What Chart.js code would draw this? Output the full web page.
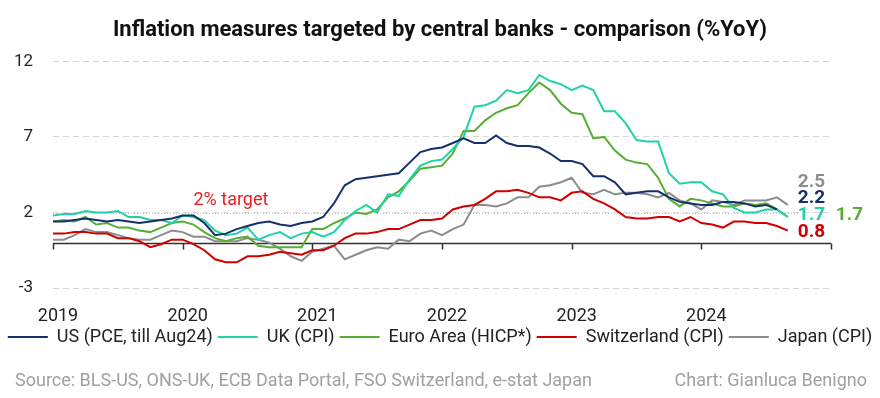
<!DOCTYPE html>
<html>
<head>
<meta charset="utf-8">
<script src="https://cdn.jsdelivr.net/npm/chart.js@4.4.1/dist/chart.umd.min.js"></script>
<style>
  body { margin: 0; background: #fff; }
  #mycanvas { display: block; }
</style>
</head>
<body>
<canvas id="mycanvas" width="880" height="398"></canvas>
<script>
// months Jan 2019 .. Jan 2025 (axis runs to Jan 2025)
var months = [];
for (var yr = 2019; yr <= 2024; yr++) {
	for (var m = 1; m <= 12; m++) months.push(yr + '-' + m);
}
months.push('2025-1');

var yTicks = [-3, 2, 7, 12];

// %YoY, Jan 2019 onwards
var us = [1.4, 1.4, 1.5, 1.6, 1.5, 1.4, 1.5, 1.4, 1.3, 1.4, 1.5, 1.6,
	1.8, 1.8, 1.3, 0.5, 0.6, 0.9, 1.1, 1.3, 1.4, 1.2, 1.1, 1.3,
	1.4, 1.7, 2.6, 3.8, 4.2, 4.3, 4.4, 4.5, 4.6, 5.3, 6.0, 6.2,
	6.3, 6.6, 6.9, 6.6, 6.6, 7.1, 6.6, 6.4, 6.4, 6.3, 5.9, 5.4,
	5.4, 5.2, 4.4, 4.4, 4.0, 3.2, 3.3, 3.4, 3.4, 3.0, 2.7, 2.6,
	2.5, 2.5, 2.7, 2.7, 2.6, 2.4, 2.5, 2.2];
var uk = [1.8, 1.9, 1.9, 2.1, 2.0, 2.0, 2.1, 1.7, 1.7, 1.5, 1.5, 1.3,
	1.8, 1.7, 1.5, 0.8, 0.5, 0.6, 1.0, 0.2, 0.5, 0.7, 0.3, 0.6,
	0.7, 0.4, 0.7, 1.5, 2.1, 2.5, 2.0, 3.2, 3.1, 4.2, 5.1, 5.4,
	5.5, 6.2, 7.0, 9.0, 9.1, 9.4, 10.1, 9.9, 10.1, 11.1, 10.7, 10.5,
	10.1, 10.4, 10.1, 8.7, 8.7, 7.9, 6.8, 6.7, 6.7, 4.6, 3.9, 4.0,
	4.0, 3.4, 3.2, 2.3, 2.0, 2.0, 2.2, 2.2, 1.7];
var euro = [1.4, 1.5, 1.4, 1.7, 1.2, 1.3, 1.0, 1.0, 0.8, 0.7, 1.0, 1.3,
	1.4, 1.2, 0.7, 0.3, 0.1, 0.3, 0.4, -0.2, -0.3, -0.3, -0.3, -0.3,
	0.9, 0.9, 1.3, 1.6, 2.0, 1.9, 2.2, 3.0, 3.4, 4.1, 4.9, 5.0,
	5.1, 5.9, 7.4, 7.4, 8.1, 8.6, 8.9, 9.1, 9.9, 10.6, 10.1, 9.2,
	8.6, 8.5, 6.9, 7.0, 6.1, 5.5, 5.3, 5.2, 4.3, 2.9, 2.4, 2.9,
	2.8, 2.6, 2.4, 2.4, 2.6, 2.5, 2.6, 2.2, 1.7];
var swiss = [0.6, 0.6, 0.7, 0.7, 0.6, 0.6, 0.3, 0.3, 0.1, -0.3, -0.1, 0.2,
	0.2, -0.1, -0.5, -1.1, -1.3, -1.3, -0.9, -0.9, -0.8, -0.6, -0.7, -0.8,
	-0.5, -0.5, -0.2, 0.3, 0.6, 0.6, 0.7, 0.9, 0.9, 1.2, 1.5, 1.5,
	1.6, 2.2, 2.4, 2.5, 2.9, 3.4, 3.4, 3.5, 3.3, 3.0, 3.0, 2.8,
	3.3, 3.4, 2.9, 2.6, 2.2, 1.7, 1.6, 1.6, 1.7, 1.7, 1.4, 1.7,
	1.3, 1.2, 1.0, 1.4, 1.4, 1.3, 1.3, 1.1, 0.8];
var japan = [0.2, 0.2, 0.5, 0.9, 0.7, 0.7, 0.5, 0.3, 0.2, 0.2, 0.5, 0.8,
	0.7, 0.4, 0.4, 0.1, 0.1, 0.1, 0.3, 0.2, 0.0, -0.4, -0.9, -1.2,
	-0.6, -0.4, -0.2, -1.1, -0.8, -0.5, -0.3, -0.4, 0.2, 0.1, 0.6, 0.8,
	0.5, 0.9, 1.2, 2.5, 2.5, 2.4, 2.6, 3.0, 3.0, 3.7, 3.8, 4.0,
	4.3, 3.3, 3.2, 3.5, 3.2, 3.3, 3.3, 3.2, 3.0, 3.3, 2.8, 2.6,
	2.2, 2.8, 2.7, 2.5, 2.8, 2.8, 2.8, 3.0, 2.5];

var seriesNames = ['US (PCE, till Aug24)', 'UK (CPI)', 'Euro Area (HICP*)', 'Switzerland (CPI)', 'Japan (CPI)'];
var seriesData = [us, uk, euro, swiss, japan];
var colors = ['#16306c', '#1fd3a6', '#58ad33', '#d00000', '#8c8c8c'];

var target = 2;
// where the end-of-line value labels sit (value units) and extra x shift
var endLabelY = [2.93, 1.8, 1.8, 0.67, 4.0];
var endLabelDx = [10, 10, 48, 10, 10];

var FONT = 'Roboto';

var datasets = [];
for (var i = 0; i < seriesData.length; i++) {
	datasets.push({
		label: seriesNames[i],
		data: seriesData[i],
		borderColor: colors[i],
		backgroundColor: colors[i],
		borderWidth: 2,
		pointRadius: 0,
		tension: 0
	});
}

// zero axis with year ticks, target line and text
var axisPlugin = {
	id: 'axisPlugin',
	beforeDatasetsDraw: function(chart) {
		var ctx = chart.ctx, x = chart.scales.x, y = chart.scales.y;
		var area = chart.chartArea;
		ctx.save();
		// 2% target
		var ty = Math.round(y.getPixelForValue(target)) + 1.5;
		ctx.strokeStyle = '#f3a3a3';
		ctx.lineWidth = 1;
		ctx.setLineDash([1, 2]);
		ctx.beginPath();
		ctx.moveTo(area.left, ty);
		ctx.lineTo(x.getPixelForValue(69), ty);
		ctx.stroke();
		ctx.setLineDash([]);
		ctx.fillStyle = '#ee1c1c';
		ctx.font = '18px ' + FONT;
		ctx.textBaseline = 'middle';
		ctx.textAlign = 'left';
		ctx.fillText('2% target', x.getPixelForValue(13), y.getPixelForValue(2.8));
		// zero line
		var zy = Math.round(y.getPixelForValue(0)) + 0.5;
		ctx.strokeStyle = '#333';
		ctx.lineWidth = 1.5;
		ctx.beginPath();
		ctx.moveTo(area.left, zy);
		ctx.lineTo(area.right, zy);
		for (var k = 0; k < months.length; k += 12) {
			var px = Math.round(x.getPixelForValue(k)) + 0.5;
			ctx.moveTo(px, zy);
			ctx.lineTo(px, zy + 6);
		}
		ctx.stroke();
		ctx.restore();
	},
	afterDraw: function(chart) {
		var ctx = chart.ctx, x = chart.scales.x, y = chart.scales.y;
		ctx.save();
		ctx.textBaseline = 'middle';
		ctx.textAlign = 'left';
		ctx.font = 'bold 19px ' + FONT;
		var lx = x.getPixelForValue(68);
		for (var i = 0; i < seriesData.length; i++) {
			var d = seriesData[i];
			var last = d[d.length - 1];
			ctx.fillStyle = colors[i];
			ctx.fillText(last.toFixed(1), lx + endLabelDx[i], y.getPixelForValue(endLabelY[i]));
		}
		// footer
		ctx.font = '18px ' + FONT;
		ctx.fillStyle = '#a0a0a0';
		ctx.fillText('Source: BLS-US, ONS-UK, ECB Data Portal, FSO Switzerland, e-stat Japan', 15, 381);
		ctx.textAlign = 'right';
		ctx.fillText('Chart: Gianluca Benigno', 867, 381);
		ctx.restore();
	}
};

var ctx = document.getElementById('mycanvas');
var chart = new Chart(ctx, {
	type: 'line',
	data: { labels: months, datasets: datasets },
	plugins: [axisPlugin],
	options: {
		responsive: false,
		animation: false,
		layout: { padding: { left: 0, right: 0, top: 0, bottom: 42 } },
		plugins: {
			title: {
				display: true,
				text: 'Inflation measures targeted by central banks - comparison (%YoY)',
				color: '#111',
				font: { family: FONT, size: 22, weight: 'bold' },
				padding: { top: 17, bottom: 18 }
			},
			legend: {
				position: 'bottom',
				labels: {
					usePointStyle: true,
					pointStyle: 'line',
					pointStyleWidth: 40,
					color: '#222',
					padding: 5,
					font: { family: FONT, size: 18 }
				}
			},
			tooltip: { enabled: false }
		},
		scales: {
			x: {
				grid: { display: false },
				border: { display: false },
				ticks: {
					autoSkip: false,
					maxRotation: 0,
					padding: 10,
					labelOffset: 5,
					color: '#222',
					font: { family: FONT, size: 18 },
					callback: function(v, i) {
						return (i % 12 === 0 && i < 72) ? months[i].slice(0, 4) : '';
					}
				},
				afterFit: function(s) { s.height = 35; }
			},
			y: {
				min: yTicks[0],
				max: yTicks[yTicks.length - 1],
				ticks: {
					stepSize: 5,
					padding: 20,
					color: '#222',
					font: { family: FONT, size: 17 }
				},
				grid: { color: '#d6d6d6', drawTicks: false },
				border: { display: false, dash: [6, 4] },
				afterFit: function(s) { s.width = 53; }
			},
			// empty right gutter for the end labels
			yRight: {
				position: 'right',
				min: yTicks[0],
				max: yTicks[yTicks.length - 1],
				ticks: { display: false },
				grid: { display: false },
				border: { display: false },
				afterFit: function(s) { s.width = 49; }
			}
		}
	}
});
</script>
</body>
</html>
